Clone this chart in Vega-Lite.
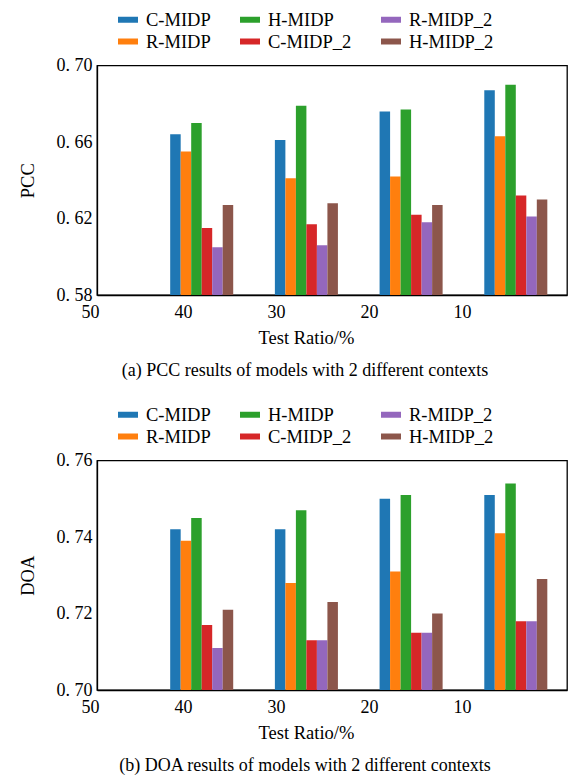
{
  "$schema": "https://vega.github.io/schema/vega-lite/v6.json",
  "padding": {"left": 17, "top": 8.5, "right": 0, "bottom": 0},
  "background": "white",
  "datasets": {
    "scores": [
      {"metric": "PCC", "ratio": 40, "model": "C-MIDP", "value": 0.664},
      {"metric": "PCC", "ratio": 40, "model": "R-MIDP", "value": 0.655},
      {"metric": "PCC", "ratio": 40, "model": "H-MIDP", "value": 0.670},
      {"metric": "PCC", "ratio": 40, "model": "C-MIDP_2", "value": 0.615},
      {"metric": "PCC", "ratio": 40, "model": "R-MIDP_2", "value": 0.605},
      {"metric": "PCC", "ratio": 40, "model": "H-MIDP_2", "value": 0.627},
      {"metric": "PCC", "ratio": 30, "model": "C-MIDP", "value": 0.661},
      {"metric": "PCC", "ratio": 30, "model": "R-MIDP", "value": 0.641},
      {"metric": "PCC", "ratio": 30, "model": "H-MIDP", "value": 0.679},
      {"metric": "PCC", "ratio": 30, "model": "C-MIDP_2", "value": 0.617},
      {"metric": "PCC", "ratio": 30, "model": "R-MIDP_2", "value": 0.606},
      {"metric": "PCC", "ratio": 30, "model": "H-MIDP_2", "value": 0.628},
      {"metric": "PCC", "ratio": 20, "model": "C-MIDP", "value": 0.676},
      {"metric": "PCC", "ratio": 20, "model": "R-MIDP", "value": 0.642},
      {"metric": "PCC", "ratio": 20, "model": "H-MIDP", "value": 0.677},
      {"metric": "PCC", "ratio": 20, "model": "C-MIDP_2", "value": 0.622},
      {"metric": "PCC", "ratio": 20, "model": "R-MIDP_2", "value": 0.618},
      {"metric": "PCC", "ratio": 20, "model": "H-MIDP_2", "value": 0.627},
      {"metric": "PCC", "ratio": 10, "model": "C-MIDP", "value": 0.687},
      {"metric": "PCC", "ratio": 10, "model": "R-MIDP", "value": 0.663},
      {"metric": "PCC", "ratio": 10, "model": "H-MIDP", "value": 0.690},
      {"metric": "PCC", "ratio": 10, "model": "C-MIDP_2", "value": 0.632},
      {"metric": "PCC", "ratio": 10, "model": "R-MIDP_2", "value": 0.621},
      {"metric": "PCC", "ratio": 10, "model": "H-MIDP_2", "value": 0.630},
      {"metric": "DOA", "ratio": 40, "model": "C-MIDP", "value": 0.742},
      {"metric": "DOA", "ratio": 40, "model": "R-MIDP", "value": 0.739},
      {"metric": "DOA", "ratio": 40, "model": "H-MIDP", "value": 0.745},
      {"metric": "DOA", "ratio": 40, "model": "C-MIDP_2", "value": 0.717},
      {"metric": "DOA", "ratio": 40, "model": "R-MIDP_2", "value": 0.711},
      {"metric": "DOA", "ratio": 40, "model": "H-MIDP_2", "value": 0.721},
      {"metric": "DOA", "ratio": 30, "model": "C-MIDP", "value": 0.742},
      {"metric": "DOA", "ratio": 30, "model": "R-MIDP", "value": 0.728},
      {"metric": "DOA", "ratio": 30, "model": "H-MIDP", "value": 0.747},
      {"metric": "DOA", "ratio": 30, "model": "C-MIDP_2", "value": 0.713},
      {"metric": "DOA", "ratio": 30, "model": "R-MIDP_2", "value": 0.713},
      {"metric": "DOA", "ratio": 30, "model": "H-MIDP_2", "value": 0.723},
      {"metric": "DOA", "ratio": 20, "model": "C-MIDP", "value": 0.750},
      {"metric": "DOA", "ratio": 20, "model": "R-MIDP", "value": 0.731},
      {"metric": "DOA", "ratio": 20, "model": "H-MIDP", "value": 0.751},
      {"metric": "DOA", "ratio": 20, "model": "C-MIDP_2", "value": 0.715},
      {"metric": "DOA", "ratio": 20, "model": "R-MIDP_2", "value": 0.715},
      {"metric": "DOA", "ratio": 20, "model": "H-MIDP_2", "value": 0.720},
      {"metric": "DOA", "ratio": 10, "model": "C-MIDP", "value": 0.751},
      {"metric": "DOA", "ratio": 10, "model": "R-MIDP", "value": 0.741},
      {"metric": "DOA", "ratio": 10, "model": "H-MIDP", "value": 0.754},
      {"metric": "DOA", "ratio": 10, "model": "C-MIDP_2", "value": 0.718},
      {"metric": "DOA", "ratio": 10, "model": "R-MIDP_2", "value": 0.718},
      {"metric": "DOA", "ratio": 10, "model": "H-MIDP_2", "value": 0.729}
    ]
  },
  "data": {"name": "scores"},
  "spacing": 23,
  "vconcat": [
    {
      "width": 470,
      "height": 229.5,
      "title": {"text": "(a)   PCC results of models with 2 different contexts", "orient": "bottom", "frame": "group", "anchor": "middle", "dx": -27, "fontSize": 18, "fontWeight": "normal", "offset": 15},
      "transform": [{"filter": "datum.metric === 'PCC'"}],
      "layer": [
        {
          "mark": {"type": "bar", "clip": true},
          "encoding": {
            "x": {"field": "ratio", "type": "ordinal", "scale": {"domain": [50, 40, 30, 20, 10], "range": [-52.35, 471.15], "paddingInner": 0.398, "paddingOuter": 0.199}, "axis": null},
            "xOffset": {"field": "model", "type": "nominal", "sort": ["C-MIDP", "R-MIDP", "H-MIDP", "C-MIDP_2", "R-MIDP_2", "H-MIDP_2"], "scale": {"paddingInner": 0, "paddingOuter": 0}},
            "y": {"field": "value", "type": "quantitative", "title": "PCC", "scale": {"domain": [0.58, 0.70], "zero": false, "nice": false},
              "axis": {"values": [0.58, 0.60, 0.62, 0.64, 0.66, 0.68, 0.70], "labelExpr": "round(datum.value*100)%4==2 ? replace(format(datum.value,'.2f'),'.','. ') : ''", "tickSize": -4, "tickOpacity": {"condition": {"test": "round(datum.value*100)%4==0", "value": 1}, "value": 0}, "labelPadding": 9, "titlePadding": 19}},
            "color": {"field": "model", "type": "nominal", "scale": {"domain": ["C-MIDP", "R-MIDP", "H-MIDP", "C-MIDP_2", "R-MIDP_2", "H-MIDP_2"], "range": ["#1f77b4", "#ff7f0e", "#2ca02c", "#d62728", "#9467bd", "#8c564b"]},
              "legend": {"orient": "none", "legendX": 21, "legendY": -56}}
          }
        },
        {
          "mark": {"type": "point", "opacity": 0},
          "encoding": {
            "x": {"field": "ratio", "type": "quantitative", "scale": {"domain": [50, -0.54], "zero": false, "nice": false},
              "axis": {"values": [50, 40, 30, 20, 10], "format": "d", "title": "Test Ratio/%", "ticks": false, "labelOffset": -7, "labelFlush": false, "labelPadding": 8, "titlePadding": 7, "titleX": 209}},
            "y": {"field": "value", "type": "quantitative"}
          }
        }
      ],
      "resolve": {"scale": {"x": "independent"}}
    },
    {
      "width": 470,
      "height": 229.5,
      "title": {"text": "(b)   DOA results of models with 2 different contexts", "orient": "bottom", "frame": "group", "anchor": "middle", "dx": -27, "fontSize": 18, "fontWeight": "normal", "offset": 15},
      "transform": [{"filter": "datum.metric === 'DOA'"}],
      "layer": [
        {
          "mark": {"type": "bar", "clip": true},
          "encoding": {
            "x": {"field": "ratio", "type": "ordinal", "scale": {"domain": [50, 40, 30, 20, 10], "range": [-52.35, 471.15], "paddingInner": 0.398, "paddingOuter": 0.199}, "axis": null},
            "xOffset": {"field": "model", "type": "nominal", "sort": ["C-MIDP", "R-MIDP", "H-MIDP", "C-MIDP_2", "R-MIDP_2", "H-MIDP_2"], "scale": {"paddingInner": 0, "paddingOuter": 0}},
            "y": {"field": "value", "type": "quantitative", "title": "DOA", "scale": {"domain": [0.70, 0.76], "zero": false, "nice": false},
              "axis": {"values": [0.70, 0.71, 0.72, 0.73, 0.74, 0.75, 0.76], "labelExpr": "round(datum.value*100)%2==0 ? replace(format(datum.value,'.2f'),'.','. ') : ''", "tickSize": -4, "tickOpacity": {"condition": {"test": "round(datum.value*100)%2==1", "value": 1}, "value": 0}, "labelPadding": 9, "titlePadding": 19}},
            "color": {"field": "model", "type": "nominal", "scale": {"domain": ["C-MIDP", "R-MIDP", "H-MIDP", "C-MIDP_2", "R-MIDP_2", "H-MIDP_2"], "range": ["#1f77b4", "#ff7f0e", "#2ca02c", "#d62728", "#9467bd", "#8c564b"]},
              "legend": {"orient": "none", "legendX": 21, "legendY": -56}}
          }
        },
        {
          "mark": {"type": "point", "opacity": 0},
          "encoding": {
            "x": {"field": "ratio", "type": "quantitative", "scale": {"domain": [50, -0.54], "zero": false, "nice": false},
              "axis": {"values": [50, 40, 30, 20, 10], "format": "d", "title": "Test Ratio/%", "ticks": false, "labelOffset": -7, "labelFlush": false, "labelPadding": 8, "titlePadding": 7, "titleX": 209}},
            "y": {"field": "value", "type": "quantitative"}
          }
        }
      ],
      "resolve": {"scale": {"x": "independent"}}
    }
  ],
  "resolve": {"scale": {"color": "independent", "x": "independent", "y": "independent", "xOffset": "independent"}, "legend": {"color": "independent"}},
  "config": {
    "font": "Liberation Serif",
    "view": {"stroke": "black", "strokeWidth": 1.3},
    "axis": {"labelFont": "Liberation Serif", "titleFont": "Liberation Serif", "domainColor": "black", "domainWidth": 1.3, "tickColor": "black", "labelColor": "black", "titleColor": "black", "titleFontWeight": "normal", "grid": false, "labelFontSize": 18, "titleFontSize": 18.5},
    "legend": {"labelFont": "Liberation Serif", "columns": 3, "title": null, "symbolType": "M-1,-0.3H1V0.3H-1Z", "symbolSize": 400, "symbolStrokeWidth": 0, "symbolOpacity": 1, "labelFontSize": 18.5, "labelColor": "black", "labelOffset": 8, "columnPadding": 29, "rowPadding": 2, "padding": 0},
    "title": {"font": "Liberation Serif", "color": "black"}
  }
}
